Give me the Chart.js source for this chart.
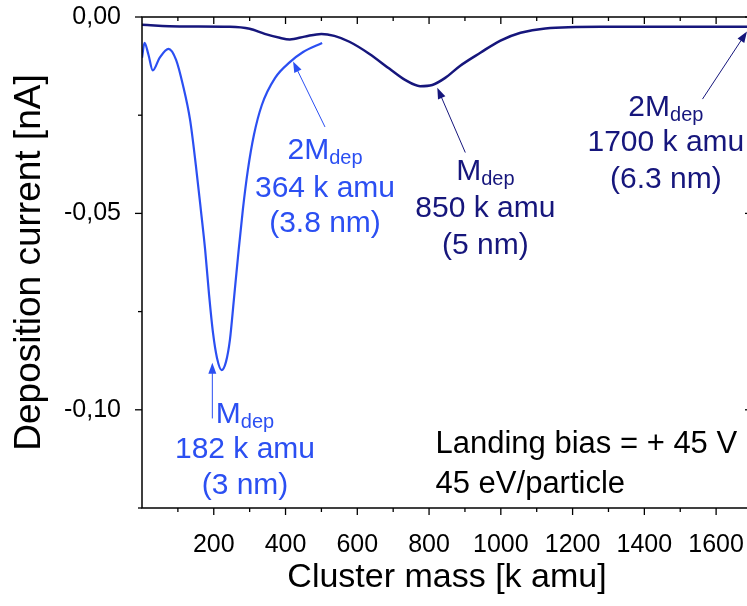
<!DOCTYPE html>
<html>
<head>
<meta charset="utf-8">
<script src="https://cdn.jsdelivr.net/npm/chart.js@4.4.0/dist/chart.umd.min.js"></script>
<style>
html, body { margin: 0; padding: 0; background: #fff; overflow: hidden; width: 747px; height: 606px; }
canvas { display: block; }
</style>
</head>
<body>
<canvas id="depChart" width="752" height="606"></canvas>
<script>
// cluster mass [k amu] / deposition current [nA]
const blueMass = [0, 7, 18, 30, 49, 74, 95, 114, 134, 150, 164, 176, 187, 198, 209, 222, 234, 245, 256, 268, 281, 295, 312, 334, 371, 412, 449, 502]
const blueCurrent = [-0.0104, -0.0066, -0.0096, -0.0136, -0.0104, -0.0081, -0.0109, -0.0173, -0.0262, -0.0377, -0.0491, -0.0593, -0.0708, -0.0805, -0.0868, -0.0899, -0.0878, -0.0822, -0.0720, -0.0606, -0.0491, -0.0390, -0.0300, -0.0224, -0.0155, -0.0115, -0.0089, -0.0066]

const navyMass = [0, 105, 245, 300, 342, 384, 412, 453, 500, 536, 578, 634, 690, 733, 775, 809, 845, 887, 943, 999, 1055, 1124, 1278, 1557, 1700]
const navyCurrent = [-0.0020, -0.0024, -0.0025, -0.0030, -0.0043, -0.0053, -0.0057, -0.0050, -0.0043, -0.0048, -0.0063, -0.0094, -0.0132, -0.0160, -0.0176, -0.0173, -0.0155, -0.0124, -0.0091, -0.0060, -0.0040, -0.0029, -0.0025, -0.0025, -0.0025]

const xTicks = [200, 400, 600, 800, 1000, 1200, 1400, 1600]
const xMinor = [100, 300, 500, 700, 900, 1100, 1300, 1500, 1700]
const yTicks = [0, -0.05, -0.10]
const yMinor = [-0.025, -0.075, -0.125]

const blue = '#2b4ff2'
const navy = '#16167c'
const font = 'Liberation Sans, Arial, sans-serif'

// annotations, in data units
const notes = [
    {color: blue, x: 287, y: [-0.1007, -0.1096, -0.1186], pre: 'M', lines: ['182 k amu', '(3 nm)'], from: [196, -0.1022], to: [196, -0.0880]},
    {color: blue, x: 510, y: [-0.0335, -0.0432, -0.0521], pre: '2M', lines: ['364 k amu', '(3.8 nm)'], from: [510, -0.0280], to: [421, -0.0113]},
    {color: navy, x: 957, y: [-0.0387, -0.0481, -0.0575], pre: 'M', lines: ['850 k amu', '(5 nm)'], from: [901, -0.0345], to: [823, -0.0180]},
    {color: navy, x: 1460, y: [-0.0226, -0.0315, -0.0407], pre: '2M', lines: ['1700 k amu', '(6.3 nm)'], from: [1562, -0.0209], to: [1686, -0.0037]}
]
const biasText = ['Landing bias = + 45 V', '45 eV/particle']
const biasPos = [818, [-0.1082, -0.1184]]

const toXY = (xs, ys) => xs.map((v, i) => ({x: v, y: ys[i]}))
const noPad = s => { s.paddingTop = 0; s.paddingBottom = 0; s.paddingLeft = 0; s.paddingRight = 0 }

const framePlugin = {
    id: 'frame',
    afterDatasetsDraw(chart) {
        const {ctx, chartArea: a, scales: {x, y}} = chart
        ctx.save()
        ctx.strokeStyle = '#000'
        ctx.lineWidth = 1.5
        ctx.strokeRect(a.left, a.top, a.right - a.left, a.bottom - a.top)
        ctx.lineWidth = 1.3
        const line = (x1, y1, x2, y2) => { ctx.beginPath(); ctx.moveTo(x1, y1); ctx.lineTo(x2, y2); ctx.stroke() }
        xTicks.forEach(v => { const p = x.getPixelForValue(v); line(p, a.bottom, p, a.bottom + 7); line(p, a.top, p, a.top + 7) })
        xMinor.forEach(v => { const p = x.getPixelForValue(v); line(p, a.bottom, p, a.bottom + 4); line(p, a.top, p, a.top + 4) })
        yTicks.forEach(v => { const p = y.getPixelForValue(v); line(a.left, p, a.left - 7, p); line(a.right, p, a.right - 7, p) })
        yMinor.forEach(v => { const p = y.getPixelForValue(v); line(a.left, p, a.left - 4, p); line(a.right, p, a.right - 4, p) })
        ctx.restore()
    },
    afterDraw(chart) {
        const {ctx, scales: {x, y}} = chart
        ctx.save()
        notes.forEach(n => {
            // arrow
            const x1 = x.getPixelForValue(n.from[0]), y1 = y.getPixelForValue(n.from[1])
            const x2 = x.getPixelForValue(n.to[0]), y2 = y.getPixelForValue(n.to[1])
            const ang = Math.atan2(y2 - y1, x2 - x1)
            ctx.strokeStyle = n.color
            ctx.fillStyle = n.color
            ctx.lineWidth = 1
            ctx.beginPath(); ctx.moveTo(x1, y1); ctx.lineTo(x2 - 8 * Math.cos(ang), y2 - 8 * Math.sin(ang)); ctx.stroke()
            ctx.beginPath()
            ctx.moveTo(x2, y2)
            ctx.lineTo(x2 - 11 * Math.cos(ang) + 4 * Math.sin(ang), y2 - 11 * Math.sin(ang) - 4 * Math.cos(ang))
            ctx.lineTo(x2 - 11 * Math.cos(ang) - 4 * Math.sin(ang), y2 - 11 * Math.sin(ang) + 4 * Math.cos(ang))
            ctx.closePath(); ctx.fill()

            // text, first line with subscript
            const cx = x.getPixelForValue(n.x)
            ctx.textBaseline = 'alphabetic'
            ctx.font = '30px ' + font
            const w1 = ctx.measureText(n.pre).width
            ctx.font = '20px ' + font
            const w2 = ctx.measureText('dep').width
            const base0 = y.getPixelForValue(n.y[0]) + 10.7
            ctx.textAlign = 'left'
            ctx.font = '30px ' + font
            ctx.fillText(n.pre, cx - (w1 + w2) / 2, base0)
            ctx.font = '20px ' + font
            ctx.fillText('dep', cx - (w1 + w2) / 2 + w1, base0 + 5)
            ctx.font = '30px ' + font
            ctx.textAlign = 'center'
            n.lines.forEach((t, i) => ctx.fillText(t, cx, y.getPixelForValue(n.y[i + 1]) + 10.7))
        })
        ctx.fillStyle = '#000'
        ctx.textAlign = 'left'
        ctx.font = '31px ' + font
        biasText.forEach((t, i) => ctx.fillText(t, x.getPixelForValue(biasPos[0]), y.getPixelForValue(biasPos[1][i]) + 11))
        ctx.restore()
    }
}

const depChart = new Chart(document.getElementById('depChart'), {
    type: 'scatter',
    data: {
        datasets: [{
            data: toXY(navyMass, navyCurrent),
            showLine: true,
            borderColor: navy,
            borderWidth: 2.5,
            pointRadius: 0,
            tension: 0.4,
            cubicInterpolationMode: 'monotone'
        }, {
            data: toXY(blueMass, blueCurrent),
            showLine: true,
            borderColor: blue,
            borderWidth: 2.2,
            pointRadius: 0,
            tension: 0.4,
            cubicInterpolationMode: 'monotone'
        }]
    },
    options: {
        responsive: false,
        animation: false,
        layout: { padding: { top: 17, right: 0, left: 0, bottom: 0 } },
        plugins: {
            legend: { display: false },
            tooltip: { enabled: false }
        },
        scales: {
            x: {
                type: 'linear',
                min: 0,
                max: 1700,
                afterBuildTicks: s => { s.ticks = xTicks.map(v => ({value: v})) },
                afterFit: s => { s.height = 98; noPad(s) },
                grid: { display: false },
                border: { display: false },
                ticks: {
                    color: '#000',
                    padding: 14,
                    maxRotation: 0,
                    autoSkip: false,
                    font: { family: font, size: 25 },
                    callback: v => String(v)
                },
                title: {
                    display: true,
                    text: 'Cluster mass [k amu]',
                    color: '#000',
                    padding: { top: 0, bottom: 8 },
                    font: { family: font, size: 34 }
                }
            },
            y: {
                min: -0.125,
                max: 0,
                afterBuildTicks: s => { s.ticks = yTicks.map(v => ({value: v})) },
                afterFit: s => { s.width = 142; noPad(s) },
                grid: { display: false },
                border: { display: false },
                ticks: {
                    color: '#000',
                    padding: 13,
                    autoSkip: false,
                    font: { family: font, size: 25 },
                    callback: v => v.toFixed(2).replace('.', ',').replace('-0,00', '0,00')
                },
                title: {
                    display: true,
                    text: 'Deposition current [nA]',
                    color: '#000',
                    padding: { top: 8, bottom: 0 },
                    font: { family: font, size: 37 }
                }
            }
        }
    },
    plugins: [framePlugin]
});
</script>
</body>
</html>
